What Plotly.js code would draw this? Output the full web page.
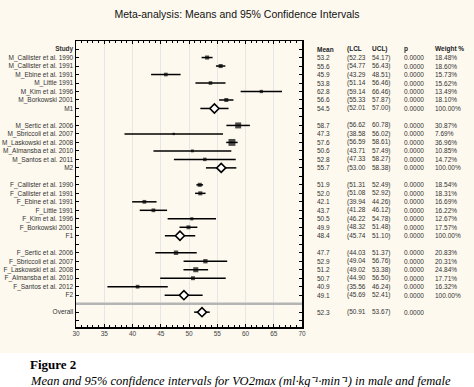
<!DOCTYPE html>
<html><head><meta charset="utf-8">
<script src="https://cdn.plot.ly/plotly-3.0.1.min.js"></script>
<style>html,body{margin:0;padding:0;background:#fff}#chart{width:474px;height:387px}</style>
</head><body><div id="chart"></div>
<script>
// ---- data (row order top to bottom; "" = empty row) ----
const studies = ["M_Callister et al. 1990","M_Callister et al. 1991","M_Ebine et al. 1991","M_Little 1991","M_Kim et al. 1996","M_Borkowski 2001","M1","",
"M_Sertic et al. 2006","M_Sbriccoli et al. 2007","M_Laskowski et al. 2008","M_Almansba et al. 2010","M_Santos et al. 2011","M2","",
"F_Callister et al. 1990","F_Callister et al. 1991","F_Ebine et al. 1991","F_Little 1991","F_Kim et al. 1996","F_Borkowski 2001","F1","",
"F_Sertic et al. 2006","F_Sbriccoli et al. 2007","F_Laskowski et al. 2008","F_Almansba et al. 2010","F_Santos et al. 2012","F2","","Overall"];
const means = [53.2,55.6,45.9,53.8,62.8,56.6,54.5,null,58.7,47.3,57.6,50.6,52.8,55.7,null,51.9,52.0,42.1,43.7,50.5,49.9,48.4,null,47.7,52.9,51.2,50.7,40.9,49.1,null,52.3];
const lcl = [52.23,54.77,43.29,51.14,59.14,55.33,52.01,null,56.62,38.58,56.59,43.71,47.33,53.00,null,51.31,51.08,39.94,41.28,46.22,48.32,45.74,null,44.03,49.04,49.02,44.90,35.56,45.69,null,50.91];
const ucl = [54.17,56.43,48.51,56.46,66.46,57.87,57.00,null,60.78,56.02,58.61,57.49,58.27,58.38,null,52.49,52.92,44.26,46.12,54.78,51.48,51.10,null,51.37,56.76,53.38,56.50,46.24,52.41,null,53.67];
const pvals = ["0.0000","0.0000","0.0000","0.0000","0.0000","0.0000","0.0000",null,"0.0000","0.0000","0.0000","0.0000","0.0000","0.0000",null,"0.0000","0.0000","0.0000","0.0000","0.0000","0.0000","0.0000",null,"0.0000","0.0000","0.0000","0.0000","0.0000","0.0000",null,"0.0000"];
const weights = [18.48,18.60,15.73,15.62,13.49,18.10,100.00,null,30.87,7.69,36.96,10.85,14.72,100.00,null,18.54,18.31,16.69,16.22,12.67,17.57,100.00,null,20.83,20.31,24.84,17.71,16.32,100.00,null,null];
const summaries = ["M1","M2","F1","F2","Overall"];
const headers = ["Mean","(LCL","UCL)","p","Weight %"];
const xTicks = [30,35,40,45,50,55,60,65,70];

// ---- layout geometry (pixels) ----
const W=474,H=387,L=76,R=302,T=41,B=327;
const px = v => (v-L)/(R-L);
const py = v => (B-v)/(B-T);
const FONT = "Liberation Sans, Arial, sans-serif";
const rowY = i => i+1;

const st = {x:[],y:[],em:[],ep:[],s:[]}, sm = {x:[],y:[],em:[],ep:[]};
studies.forEach((s,i)=>{
  if(means[i]==null) return;
  const tgt = summaries.includes(s) ? sm : st;
  tgt.x.push(means[i]); tgt.y.push(rowY(i));
  tgt.em.push(+(means[i]-lcl[i]).toFixed(3)); tgt.ep.push(+(ucl[i]-means[i]).toFixed(3));
  if(tgt===st) tgt.s.push(1.2+weights[i]*0.155);
});

const traces = [
 {type:'scatter',mode:'markers',x:st.x,y:st.y,
  marker:{symbol:'square',size:st.s,color:'#000',line:{width:0}},
  error_x:{type:'data',symmetric:false,array:st.ep,arrayminus:st.em,width:0,thickness:1.5,color:'#000'},
  hoverinfo:'skip',showlegend:false},
 {type:'scatter',mode:'markers',x:sm.x,y:sm.y,
  marker:{symbol:'diamond',size:7,color:'#fff',line:{width:1.6,color:'#000'}},
  error_x:{type:'data',symmetric:false,array:sm.ep,arrayminus:sm.em,width:0,thickness:1.5,color:'#000'},
  hoverinfo:'skip',showlegend:false}
];

const tickvals=[], ticktext=[];
for(let r=0;r<=32;r++){
  tickvals.push(r);
  if(r===0) ticktext.push('<b>Study</b>');
  else if(r-1<studies.length) ticktext.push(studies[r-1]);
  else ticktext.push('');
}

const colX = [315,345,370,402,433];
const ann = [];
headers.forEach((h,j)=>ann.push({xref:'paper',yref:'y',x:px(colX[j]),y:0,xanchor:'left',yanchor:'middle',
  text:'<b>'+h+'</b>',showarrow:false,font:{family:FONT,size:6.5,color:'#222'}}));
studies.forEach((s,i)=>{
  if(means[i]==null) return;
  const cells=[means[i].toFixed(1),'('+lcl[i].toFixed(2),ucl[i].toFixed(2)+')',pvals[i],
    weights[i]==null?'':weights[i].toFixed(2)+'%'];
  cells.forEach((c,j)=>{ if(c==='') return;
    ann.push({xref:'paper',yref:'y',x:px(colX[j]),y:rowY(i),xanchor:'left',yanchor:'middle',
      text:c,showarrow:false,font:{family:FONT,size:6.5,color:'#333'}});});
});
ann.push({xref:'paper',yref:'paper',x:px(28),y:py(364),xanchor:'left',yanchor:'middle',showarrow:false,
  text:'<b>Figure 2</b>',font:{family:'Liberation Serif, Times New Roman, serif',size:13,color:'#000'}});
ann.push({xref:'paper',yref:'paper',x:px(28),y:py(381),xanchor:'left',yanchor:'middle',showarrow:false,
  text:'<i>Mean and 95% confidence intervals for VO2max (ml·kg⁻¹·min⁻¹) in male and female</i>',
  font:{family:'Liberation Serif, Times New Roman, serif',size:12.5,color:'#000'}});

const layout = {
  width:W,height:H,margin:{l:L,r:W-R,t:T,b:H-B,pad:0},
  paper_bgcolor:'#fff',plot_bgcolor:'#fff',
  font:{family:FONT,size:6.5,color:'#333'},
  title:{text:'Meta-analysis: Means and 95% Confidence Intervals',xref:'container',x:0.5,xanchor:'center',
    yref:'container',y:1-14/H,yanchor:'middle',font:{family:FONT,size:10.5,color:'#111'}},
  xaxis:{range:[30,70],tickvals:xTicks,ticktext:xTicks.map(String),ticks:'inside',ticklen:3,tickwidth:1,tickcolor:'#000',
    showgrid:true,gridcolor:'#e6e6e6',gridwidth:1,zeroline:false,showline:true,linecolor:'#000',linewidth:1.5,mirror:'ticks',
    minor:{dtick:1,tick0:30,ticks:'inside',ticklen:2,tickcolor:'#000',showgrid:false},
    tickfont:{family:FONT,size:6.5,color:'#444'},fixedrange:true},
  yaxis:{range:[32.75,-0.95],tickvals:tickvals,ticktext:ticktext,ticks:'inside',ticklen:3,tickwidth:1,tickcolor:'#000',
    showgrid:false,zeroline:false,showline:true,linecolor:'#000',linewidth:1.5,mirror:'ticks',
    tickfont:{family:FONT,size:6.5,color:'#333'},fixedrange:true},
  shapes:[
    {type:'rect',xref:'paper',yref:'paper',x0:px(0),x1:px(W),y0:py(353),y1:py(0),fillcolor:'#fdf9ef',line:{width:0},layer:'below'},
    {type:'line',xref:'paper',yref:'y',x0:0,x1:1,y0:30,y1:30,line:{color:'#b5b5b5',width:2.5},layer:'above'}
  ],
  annotations:ann
};
Plotly.newPlot('chart',traces,layout,{staticPlot:true,displayModeBar:false});
</script></body></html>
